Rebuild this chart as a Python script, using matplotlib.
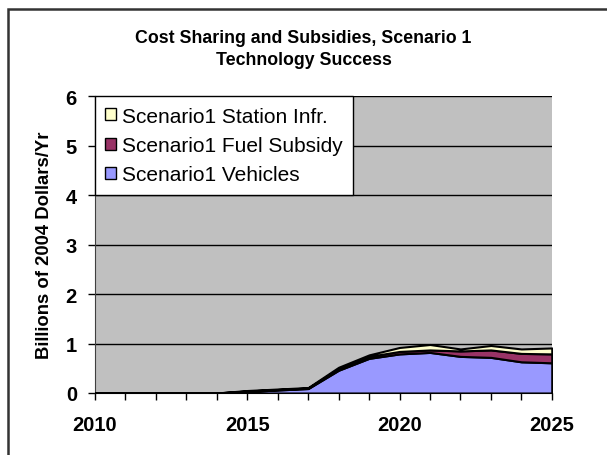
import matplotlib.pyplot as plt
from matplotlib.patches import Rectangle

plt.rcParams['font.family'] = ['Liberation Sans', 'DejaVu Sans']

# data (billions of 2004 $ per year)
years = [2010, 2011, 2012, 2013, 2014, 2015, 2016, 2017, 2018, 2019, 2020, 2021, 2022, 2023, 2024, 2025]
vehicles = [0, 0, 0, 0, 0, 0.03, 0.06, 0.09, 0.46, 0.70, 0.79, 0.82, 0.74, 0.72, 0.63, 0.61]
fuel_subsidy = [0, 0, 0, 0, 0, 0.01, 0.01, 0.01, 0.03, 0.04, 0.05, 0.05, 0.11, 0.15, 0.17, 0.18]
station_infr = [0, 0, 0, 0, 0, 0.01, 0.01, 0.01, 0.03, 0.03, 0.08, 0.11, 0.04, 0.09, 0.09, 0.12]

labels = ['Scenario1 Vehicles', 'Scenario1 Fuel Subsidy', 'Scenario1 Station Infr.']
colors = ['#9999FF', '#993366', '#FFFFCC']

fig = plt.figure(figsize=(6.07, 4.56), dpi=100)
ax = fig.add_axes([0.1565, 0.136, 0.7525, 0.651])

# chart border: only top and left edges fall inside the picture
fig.patches.append(Rectangle((0.0135, -0.1), 1.2, 1.078, transform=fig.transFigure,
                             fill=False, edgecolor='#333333', linewidth=1.8))

ax.set_facecolor('#C0C0C0')
polys = ax.stackplot(years, vehicles, fuel_subsidy, station_infr, labels=labels,
                     colors=colors, edgecolor='black', linewidth=1.5, zorder=3)

ax.set_xlim(2010, 2025)
ax.set_ylim(0, 6)
ax.set_yticks(range(0, 7))
ax.set_xticks([2010, 2015, 2020, 2025])
ax.set_xticks(years, minor=True)
ax.yaxis.grid(True, color='black', linewidth=1)
ax.set_axisbelow(True)
ax.tick_params(axis='both', direction='out', length=5, width=1, color='black')
ax.tick_params(axis='x', which='minor', direction='out', length=5, width=1)
ax.tick_params(axis='x', pad=11)
ax.tick_params(axis='y', pad=8)
for lab in ax.get_xticklabels() + ax.get_yticklabels():
    lab.set_fontweight('bold')
    lab.set_fontsize(14.5)
for s in ['top', 'right']:
    ax.spines[s].set_visible(False)
ax.spines['left'].set_color('#404040')
ax.spines['bottom'].set_color('#404040')

ax.set_ylabel('Billions of 2004 Dollars/Yr', fontsize=13.3, fontweight='bold', labelpad=9)
fig.suptitle('Cost Sharing and Subsidies, Scenario 1\nTechnology Success',
             fontsize=12.8, fontweight='bold', y=0.935, linespacing=1.4)

handles, labs = ax.get_legend_handles_labels()
leg = ax.legend(handles[::-1], labs[::-1], loc='upper left', borderaxespad=0,
                fontsize=15, frameon=True, fancybox=False, edgecolor='black',
                handlelength=0.5, handleheight=0.5, handletextpad=0.3,
                labelspacing=0.5, borderpad=0.5)
leg.get_frame().set_linewidth(1)
leg.get_frame().set_facecolor('white')
leg.get_frame().set_alpha(1)
for h in leg.legend_handles:
    h.set_edgecolor('black')
    h.set_linewidth(1)

fig.savefig('out.png', dpi=100)
